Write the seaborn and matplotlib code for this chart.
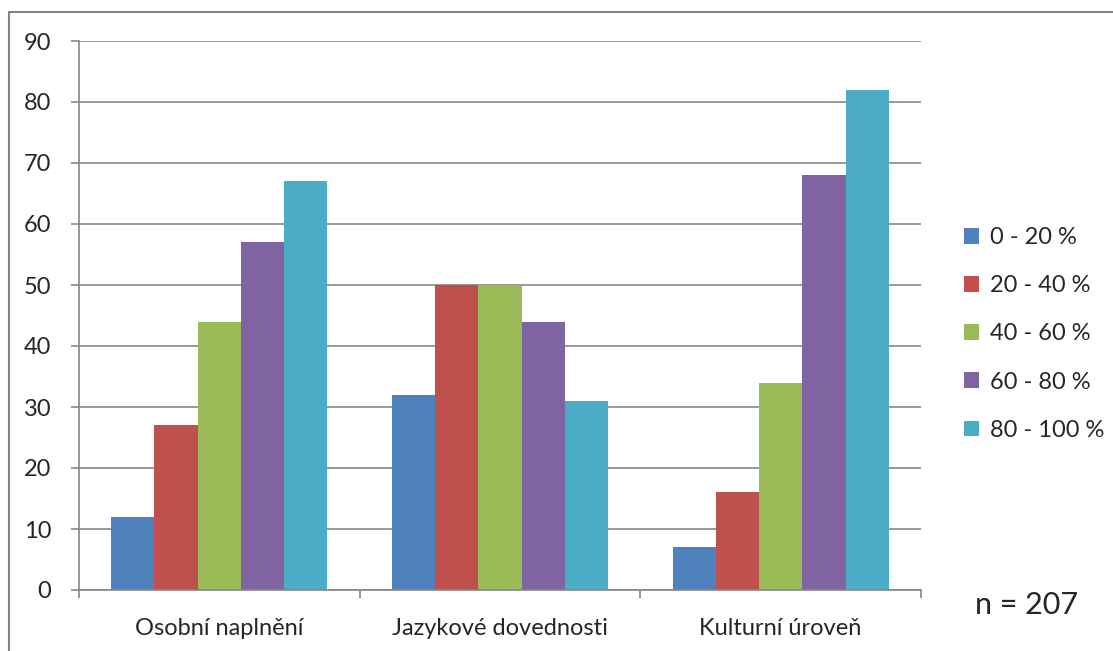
import matplotlib
matplotlib.use("Agg")
import matplotlib.pyplot as plt
import seaborn as sns
import pandas as pd
from matplotlib.patches import Rectangle

categories = ["Osobní naplnění", "Jazykové dovednosti", "Kulturní úroveň"]
series = ["0 - 20 %", "20 - 40 %", "40 - 60 %", "60 - 80 %", "80 - 100 %"]
v_0_20 = [12, 32, 7]
v_20_40 = [27, 50, 16]
v_40_60 = [44, 50, 34]
v_60_80 = [57, 44, 68]
v_80_100 = [67, 31, 82]
colors = ["#4F81BD", "#C0504D", "#9BBB59", "#8064A2", "#4BACC6"]
yticks = [0, 10, 20, 30, 40, 50, 60, 70, 80, 90]
note = "n = 207"

values = [v_0_20, v_20_40, v_40_60, v_60_80, v_80_100]
rows = []
for s, vals in zip(series, values):
    for c, v in zip(categories, vals):
        rows.append({"cat": c, "series": s, "val": v})
df = pd.DataFrame(rows)

sns.set_theme(style="white")
plt.rcParams["font.family"] = ["Lato", "DejaVu Sans"]

W, H = 1113, 651
fig = plt.figure(figsize=(W / 100, H / 100), dpi=100)
ax = fig.add_axes([79 / W, (H - 590) / H, (921 - 79) / W, (590 - 41) / H])

sns.barplot(data=df, x="cat", y="val", hue="series", order=categories,
            hue_order=series, palette=colors, width=0.77, gap=0,
            saturation=1, linewidth=0, ax=ax, legend=True)

ax.set_ylim(0, 90)
ax.set_xlim(-0.5, 2.5)
ax.set_yticks(yticks)
ax.set_xlabel("")
ax.set_ylabel("")
ax.yaxis.grid(True, color="#868686", linewidth=1.2)
ax.set_axisbelow(True)
for side in ["top", "right"]:
    ax.spines[side].set_visible(False)
for side in ["left", "bottom"]:
    ax.spines[side].set_color("#868686")
    ax.spines[side].set_linewidth(1.2)
ax.set_xticks([-0.5, 0.5, 1.5, 2.5], minor=False)
ax.set_xticklabels([])
ax.set_xticks([0, 1, 2], minor=True)
ax.set_xticklabels(categories, minor=True)
ax.tick_params(axis="x", which="major", length=6, width=1.2, color="#868686", direction="out", bottom=True)
ax.tick_params(axis="x", which="minor", length=0, pad=20, labelsize=17)
ax.tick_params(axis="y", length=6, width=1.2, color="#868686", direction="out", left=True, labelsize=17, pad=14)

leg = ax.legend(loc="center left", bbox_to_anchor=(952 / W, (H - 334) / H),
                bbox_transform=fig.transFigure, frameon=False, fontsize=17,
                handlelength=0.65, handleheight=0.65, handletextpad=0.45,
                labelspacing=1.15, borderpad=0)

fig.text(1027 / W, (H - 605) / H, note, ha="center", va="center", fontsize=22)

fig.patches.append(Rectangle((9 / W, -0.1), 1.2, (H - 12) / H + 0.1,
                             transform=fig.transFigure, fill=False,
                             edgecolor="#868686", linewidth=1.5))

fig.savefig("out.png", dpi=100)
